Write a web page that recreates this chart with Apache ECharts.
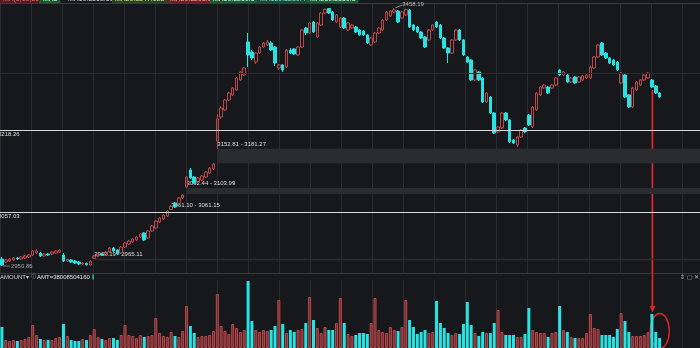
<!DOCTYPE html>
<html><head><meta charset="utf-8">
<script src="https://cdn.jsdelivr.net/npm/echarts@6/dist/echarts.min.js"></script>
<style>html,body{margin:0;padding:0;background:#17181c;overflow:hidden}#c{width:700px;height:348px}</style>
</head><body><div id="c"></div>
<script>
// ---- data ----
// each candle: [open, close, low, high]
const candles = [
[2964.6,2952.8,2950.85,2968.6],[2958.7,2962.7,2956.8,2964.6],[2960.7,2964.6,2958.7,2966.6],[2962.7,2966.6,2960.7,2968.6],
[2966.6,2964.6,2962.7,2968.6],[2964.6,2968.6,2962.7,2970.5],[2966.6,2970.5,2964.6,2972.5],[2968.6,2972.5,2966.6,2974.5],
[2972.5,2980.4,2970.5,2982.3],[2976.4,2980.4,2974.5,2984.3],[2976.4,2970.5,2968.6,2978.4],[2970.5,2974.5,2968.6,2976.4],
[2974.5,2972.5,2970.5,2976.4],[2974.5,2978.4,2972.5,2980.4],[2976.4,2980.4,2974.5,2982.3],[2978.4,2982.3,2976.4,2984.3],
[2972.5,2960.7,2958.7,2976.4],[2960.7,2963.6,2958.7,2965.6],[2962.7,2958.7,2956.8,2964.6],[2960.7,2956.8,2954.8,2962.7],
[2958.7,2954.8,2952.8,2960.7],[2954.8,2956.8,2952.8,2958.7],[2955.8,2953.4,2951.5,2957.8],[2952.8,2960.7,2951.9,2962.19],
[2966.0,2970.5,2965.11,2972.5],[2970.5,2974.5,2968.6,2976.4],[2974.5,2972.5,2970.5,2976.4],[2972.5,2978.4,2970.5,2980.4],
[2978.4,2986.3,2976.4,2988.2],[2986.3,2980.4,2978.4,2988.2],[2982.3,2974.5,2972.5,2984.3],[2976.4,2988.2,2974.5,2990.2],
[2988.2,2996.1,2986.3,2998.1],[2994.1,3000.0,2992.2,3002.0],[2998.1,3004.0,2996.1,3005.9],[3002.0,3007.9,3000.0,3009.9],
[3007.9,3013.8,3005.9,3015.8],[3015.8,3002.0,3000.0,3017.7],[3005.9,3019.7,3004.0,3021.7],[3019.7,3029.5,3017.7,3031.5],
[3025.6,3039.3,3023.6,3041.3],[3037.4,3045.2,3035.4,3047.2],[3043.3,3051.1,3041.3,3053.1],[3049.2,3059.0,3047.2,3061.10],
[3062.0,3067.9,3061.15,3070.8],[3074.7,3066.9,3064.9,3076.7],[3072.8,3084.6,3070.8,3086.5],[3084.6,3090.5,3082.6,3092.44],
[3106.2,3125.8,3103.99,3128.0],[3139.6,3123.9,3121.9,3143.5],[3125.8,3114.1,3112.1,3127.8],[3116.0,3123.9,3114.1,3125.8],
[3120.0,3127.8,3118.0,3129.8],[3125.8,3135.7,3123.9,3137.6],[3133.7,3143.5,3131.7,3145.5],[3141.6,3151.4,3139.6,3152.81],
[3196.6,3239.9,3181.27,3249.7],[3243.8,3261.5,3239.9,3265.4],[3257.6,3277.2,3255.6,3279.2],[3277.2,3291.0,3275.3,3293.0],
[3287.1,3300.8,3285.1,3302.8],[3296.9,3320.5,3294.9,3322.5],[3316.6,3332.3,3314.6,3334.3],[3326.4,3340.1,3324.4,3342.1],
[3391.3,3365.7,3342.1,3409.0],[3371.6,3359.8,3355.9,3375.5],[3351.9,3369.6,3348.0,3371.6],[3369.6,3381.4,3367.7,3383.4],
[3381.4,3389.3,3379.5,3391.3],[3385.4,3391.3,3383.4,3395.2],[3389.3,3375.5,3373.6,3393.2],[3381.4,3350.0,3344.1,3383.4],
[3340.1,3346.0,3336.2,3348.0],[3346.0,3336.2,3332.3,3348.0],[3342.1,3375.5,3340.1,3377.5],[3375.5,3369.6,3367.7,3379.5],
[3377.5,3367.7,3365.7,3379.5],[3365.7,3381.4,3363.7,3383.4],[3381.4,3414.9,3379.5,3416.8],[3418.8,3409.0,3405.0,3420.8],
[3409.0,3428.6,3407.0,3430.6],[3430.6,3410.9,3409.0,3432.6],[3401.1,3428.6,3399.1,3430.6],[3424.7,3448.3,3422.7,3450.3],
[3448.3,3455.5,3446.3,3457.6],[3457.0,3448.3,3446.3,3458.0],[3450.3,3434.5,3432.6,3452.2],[3430.6,3444.3,3428.6,3446.3],
[3420.8,3438.4,3418.8,3440.4],[3438.4,3418.8,3416.8,3440.4],[3414.9,3428.6,3412.9,3430.6],[3418.8,3424.7,3416.8,3426.7],
[3420.8,3410.9,3409.0,3422.7],[3414.9,3405.0,3403.1,3416.8],[3412.9,3405.0,3403.1,3414.9],[3405.0,3389.3,3387.3,3407.0],
[3385.4,3399.1,3383.4,3401.1],[3391.3,3409.0,3389.3,3411.0],[3409.0,3418.8,3407.0,3420.8],[3414.9,3434.5,3412.9,3436.5],
[3434.5,3450.3,3432.6,3452.2],[3442.4,3452.2,3440.4,3454.2],[3450.3,3454.2,3448.3,3458.19],[3452.2,3430.6,3428.6,3454.2],
[3438.4,3450.3,3436.5,3452.2],[3444.3,3455.0,3442.4,3457.0],[3454.2,3420.8,3418.8,3456.1],[3424.7,3414.9,3412.9,3426.7],
[3420.8,3410.9,3409.0,3422.7],[3410.9,3399.1,3397.2,3412.9],[3401.1,3381.4,3379.5,3403.1],[3395.2,3414.9,3393.2,3416.8],
[3414.9,3424.7,3412.9,3426.7],[3430.6,3420.8,3418.8,3432.6],[3424.7,3399.1,3397.2,3426.7],[3399.1,3379.5,3377.5,3401.1],
[3379.5,3369.6,3350.0,3381.4],[3369.6,3395.2,3367.7,3397.2],[3395.2,3414.9,3393.2,3416.8],[3414.9,3395.2,3393.2,3416.8],
[3395.2,3365.7,3363.7,3397.2],[3361.8,3351.9,3350.0,3363.7],[3355.9,3316.6,3314.6,3357.8],[3316.6,3336.2,3314.6,3338.2],
[3332.3,3316.6,3314.6,3334.3],[3320.5,3273.3,3271.3,3322.5],[3273.3,3291.0,3271.3,3293.0],[3283.1,3251.7,3249.7,3285.1],
[3251.7,3212.4,3210.4,3253.6],[3214.3,3224.1,3212.4,3226.1],[3222.2,3251.7,3220.2,3253.6],[3251.7,3237.9,3235.9,3253.6],
[3237.9,3194.7,3192.7,3239.9],[3198.6,3192.7,3190.7,3200.6],[3188.8,3204.5,3184.8,3206.5],[3204.5,3218.3,3202.5,3220.2],
[3222.2,3214.3,3212.4,3224.1],[3247.7,3228.1,3226.1,3249.7],[3224.1,3263.5,3222.2,3265.4],[3257.6,3291.0,3255.6,3293.0],
[3287.1,3302.8,3285.1,3304.8],[3300.8,3306.7,3298.9,3308.7],[3302.8,3291.0,3289.0,3304.8],[3300.8,3306.7,3298.9,3308.7],
[3306.7,3320.5,3304.8,3322.5],[3336.2,3326.4,3324.4,3338.2],[3326.4,3332.3,3324.4,3334.3],[3326.4,3312.6,3310.7,3328.4],
[3312.6,3320.5,3310.7,3322.5],[3322.5,3310.7,3308.7,3324.4],[3312.6,3322.5,3310.7,3324.4],[3316.6,3324.4,3314.6,3326.4],
[3320.5,3326.4,3318.5,3328.4],[3320.5,3342.1,3318.5,3344.1],[3340.1,3361.8,3338.2,3363.7],[3361.8,3385.4,3359.8,3387.3],
[3389.3,3365.7,3363.7,3391.3],[3369.6,3359.8,3357.8,3371.6],[3359.8,3350.0,3348.0,3361.8],[3355.9,3346.0,3344.1,3357.8],
[3351.9,3336.2,3334.3,3353.9],[3310.7,3330.3,3308.7,3332.3],[3326.4,3283.1,3281.2,3328.4],[3287.1,3263.5,3261.5,3289.0],
[3263.5,3300.8,3261.5,3302.8],[3296.9,3312.6,3294.9,3314.6],[3306.7,3316.6,3304.8,3318.5],[3316.6,3326.4,3314.6,3328.4],
[3320.5,3330.3,3318.5,3332.3],[3316.6,3302.8,3300.8,3318.5],[3304.8,3291.0,3289.0,3306.7],[3291.0,3283.1,3281.2,3293.0]
];
// turnover per day, 亿元
const volumes = [
798,304,266,304,266,304,342,418,874,494,342,304,304,304,380,418,912,456,304,266,
266,342,304,494,722,418,342,304,380,380,304,494,874,494,456,380,494,418,456,494,
1140,570,456,418,608,456,418,646,1596,836,570,418,456,456,494,646,2052,836,646,532,
912,760,608,684,2546,1026,684,608,684,646,684,836,1824,912,570,684,608,684,722,950,
1938,1064,760,570,798,684,684,950,1900,950,532,456,494,570,570,532,950,1900,684,608,
570,798,684,646,798,1824,1064,798,532,608,684,570,608,1786,950,760,570,494,570,532,
912,1748,874,570,456,608,570,570,950,1444,608,494,494,494,418,418,532,1520,684,608,
570,570,418,570,608,1596,684,608,418,380,380,380,570,1292,760,722,494,494,494,418,
722,1330,1026,608,456,456,456,494,608,1292,608,380.1
];
const refLines = [3218.26, 3057.03];
// [index of gap-up candle, previous high, gap-up low]
const gaps = [[24, 2962.19, 2965.11], [44, 3061.10, 3061.15], [48, 3092.44, 3103.99], [56, 3152.81, 3181.27]];
const maxPoint = [102, 3458.19];
const minPoint = [0, 2950.85];
const amtText = 'AMT=38008504160';
const markedIndex = 169;

// ---- styling ----
const BG = '#17181c', GRIDC = '#2a2b30', RED = '#b9484b', RED_FILL = '#6a2e31', CYAN = '#27e3e3';
const FONT = 'Liberation Sans, Arial, sans-serif';
const N = 182;
const cats = Array.from({length: N}, (_, i) => 'd' + (i + 1));
const candleData = candles.concat(Array(N - candles.length).fill('-'));
const volData = volumes.map((v, i) => {
  const up = candles[i][1] >= candles[i][0];
  return {value: v, itemStyle: up ? {color: RED_FILL, borderColor: RED, borderWidth: 1} : {color: CYAN, borderColor: CYAN, borderWidth: 0}};
});

const chart = echarts.init(document.getElementById('c'), null, {renderer: 'canvas'});
const hidden = {axisLine: {show: false}, axisTick: {show: false}, axisLabel: {show: false}};
const option = {
  backgroundColor: BG,
  animation: false,
  grid: [
    {left: 0, right: 0, top: 3, height: 270},
    {left: 0, right: 0, top: 280, height: 68}
  ],
  xAxis: [
    Object.assign({type: 'category', data: cats, gridIndex: 0, boundaryGap: true, splitLine: {show: false}}, hidden),
    Object.assign({type: 'category', data: cats, gridIndex: 1, boundaryGap: true, splitLine: {show: false}}, hidden),
    Object.assign({type: 'value', gridIndex: 0, min: 0, max: 700, interval: 31, splitLine: {show: true, lineStyle: {color: GRIDC, width: 1}}}, hidden),
    Object.assign({type: 'value', gridIndex: 1, min: 0, max: 700, interval: 31, splitLine: {show: true, lineStyle: {color: GRIDC, width: 1}}}, hidden)
  ],
  yAxis: [
    Object.assign({type: 'value', gridIndex: 0, min: 2937.12, max: 3467.94, scale: true, splitLine: {show: false}}, hidden),
    Object.assign({type: 'value', gridIndex: 1, min: 0, max: 2584, splitLine: {show: false}}, hidden)
  ],
  series: [
    {
      type: 'candlestick', xAxisIndex: 0, yAxisIndex: 0, data: candleData, barWidth: 3,
      itemStyle: {color: 'transparent', color0: CYAN, borderColor: RED, borderColor0: CYAN, borderWidth: 1},
      markLine: {
        silent: true, symbol: ['none', 'none'], animation: false,
        data: [
          {yAxis: 3330.3, lineStyle: {color: GRIDC, width: 1, type: 'solid'}, label: {show: false}},
          ...refLines.map(v => ({yAxis: v, lineStyle: {color: '#d9d9d9', width: 1, type: 'solid'},
            label: {show: true, position: 'insideStartBottom', distance: [-2, 1], formatter: String(v), color: '#dcdcdc', fontSize: 6, fontFamily: FONT}}))
        ]
      },
      markArea: {
        silent: true,
        itemStyle: {color: '#2b2c30'},
        data: gaps.map(g => [
          {xAxis: cats[g[0]], yAxis: g[2], label: {show: true, position: [0, -7.5], formatter: g[1].toFixed(2) + ' - ' + g[2].toFixed(2), color: '#dedede', fontSize: 6, fontFamily: FONT}},
          {x: '100%', yAxis: g[1]}
        ])
      }
    },
    {
      type: 'bar', xAxisIndex: 1, yAxisIndex: 1, data: volData, barWidth: 3
    }
  ]
};
chart.setOption(option);

// ---- annotations positioned from the data ----
const px = (i, v) => chart.convertToPixel({xAxisIndex: 0, yAxisIndex: 0}, [cats[i], v]);
const pv = (i, v) => chart.convertToPixel({xAxisIndex: 1, yAxisIndex: 1}, [cats[i], v]);
const gr = [];
// top strip (indicator legend, mostly cut off)
const strip = [
  {x: 0, t: 'MA(5,10,20)', bg: '#4e1e21', c: '#e07070'},
  {x: 40, t: 'MA5', bg: '#1e5a2c', c: '#cfe'},
  {x: 65, t: 'MA10:3363.615', bg: BG, c: '#ddd'},
  {x: 112, t: 'MA20:3347.123', bg: '#24462a', c: '#e5e27a'},
  {x: 167, t: 'MA30:3298.56', bg: '#6a2024', c: '#f0a0a0'},
  {x: 210, t: 'MA60:3260.5', bg: '#1f5a2d', c: '#cfe'},
  {x: 257, t: 'MA120:3210.44', bg: '#1e4a30', c: '#7ee0e0'},
  {x: 307, t: 'MA250:3150.8', bg: '#1f5a2d', c: '#cfe'}
];
strip.forEach(s => gr.push({type: 'text', x: s.x, y: -5, style: {text: s.t, fill: s.c, font: '7px ' + FONT, backgroundColor: s.bg, padding: [1, 3, 1, 3]}, silent: true}));
// frame lines
gr.push({type: 'line', shape: {x1: 0, y1: 3.5, x2: 700, y2: 3.5}, style: {stroke: '#3a3b40', lineWidth: 1}, silent: true});
gr.push({type: 'line', shape: {x1: 0, y1: 273.5, x2: 700, y2: 273.5}, style: {stroke: '#3a3b40', lineWidth: 1}, silent: true});
// volume header
gr.push({type: 'text', x: 0, y: 274.5, style: {text: 'AMOUNT▾', fill: '#d0d0d0', font: '6px ' + FONT}, silent: true});
gr.push({type: 'text', x: 31, y: 274.5, style: {text: 'ⓘ', fill: '#aaa', font: '5px ' + FONT}, silent: true});
gr.push({type: 'text', x: 37, y: 274.5, style: {text: amtText, fill: '#e6e6e6', font: '6px ' + FONT}, silent: true});
gr.push({type: 'rect', shape: {x: 92.5, y: 274.5, width: 1.2, height: 5}, style: {fill: CYAN}, silent: true});
gr.push({type: 'text', x: 680, y: 274.5, style: {text: '⇕ ▢ ✕', fill: '#bbb', font: '6px ' + FONT}, silent: true});
// max / min labels
const hp = px(maxPoint[0], maxPoint[1]);
gr.push({type: 'line', shape: {x1: hp[0] + 1, y1: hp[1], x2: hp[0] + 8, y2: hp[1] - 3}, style: {stroke: '#aaa', lineWidth: 0.8}, silent: true});
gr.push({type: 'text', x: hp[0] + 8, y: hp[1] - 6.5, style: {text: maxPoint[1].toFixed(2), fill: '#bbb', font: '6px ' + FONT}, silent: true});
const lp = px(minPoint[0], minPoint[1]);
gr.push({type: 'line', shape: {x1: lp[0] + 1, y1: lp[1], x2: lp[0] + 8, y2: lp[1]}, style: {stroke: '#8a9a9a', lineWidth: 0.8}, silent: true});
gr.push({type: 'text', x: lp[0] + 9, y: lp[1] - 3, style: {text: minPoint[1].toFixed(2), fill: '#9aa4a4', font: '6px ' + FONT}, silent: true});
// red arrow from the marked candle to its turnover bar, and ellipse
const lowPt = px(markedIndex, candles[markedIndex][2]);
const vb = pv(markedIndex, volumes[markedIndex]);
const ax = Math.round(lowPt[0]) + 0.5;
gr.push({type: 'line', shape: {x1: ax, y1: lowPt[1] + 2, x2: ax, y2: vb[1] - 7}, style: {stroke: '#e3232b', lineWidth: 1.6}, silent: true});
gr.push({type: 'polygon', shape: {points: [[ax - 2.8, vb[1] - 8], [ax + 2.8, vb[1] - 8], [ax, vb[1] - 1.5]]}, style: {fill: '#e3232b'}, silent: true});
const ec = pv(markedIndex + 1, 0);
gr.push({type: 'ellipse', shape: {cx: ec[0] + 4, cy: ec[1] - 17, rx: 9.5, ry: 17.5}, style: {stroke: '#e3232b', lineWidth: 1.4, fill: null}, silent: true});
chart.setOption({graphic: gr});
</script>
</body></html>
